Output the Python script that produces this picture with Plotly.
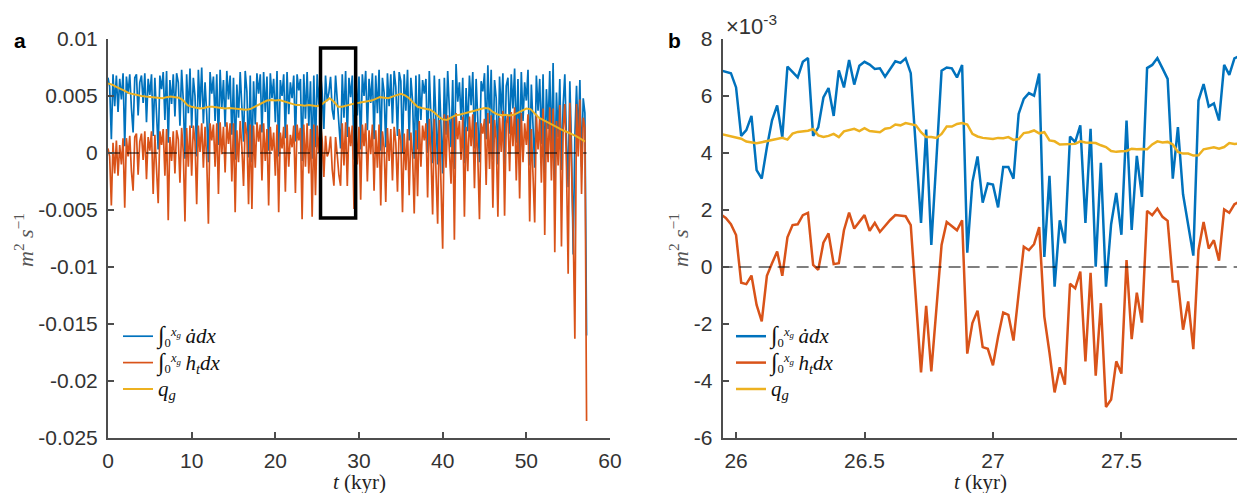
import numpy as np
import plotly.graph_objects as go

W, H = 1237, 493

# ---------------- panel a : full run (values in 1e-3 m^2/s) ----------------
t_a = np.round(np.arange(0, 57.3, 0.2), 1)

adot_a = [
    6.6, 5.8, 1.2, 6.9, 4.1,   6.8, 3.6, 6.5, 4.7, 7.0,   0.6, 6.7, 5.2, 6.9, 3.9,
    1.8, 6.6, 6.9, 3.3, 6.2,   6.8, 4.4, 7.0, 2.7, 6.5,   5.1, 6.9, 1.5, 6.6, 3.8,
    0.3, 6.8, 5.6, 7.1, 2.9,   7.2, 0.9, 6.4, 4.3, 6.9,   3.2, 7.0, 6.2, 2.4, 7.3,
    4.6, -0.5, 6.9, 3.5, 7.4,  2.2, 6.6, 5.0, -0.3, 7.3,  4.0, 7.5, 2.6, 6.2, 3.4,
    -0.8, 7.1, 5.2, 6.7, 2.8,  6.9, 0.7, 7.3, 3.9, 6.4,   2.3, 7.2, 4.7, 6.8, 1.6,
    6.6, -0.6, 6.0, 3.1, 7.1,  4.3, 1.0, 7.2, 5.4, -0.4,  6.8, -0.8, 6.3, 2.5, 7.0,
    5.2, 6.9, 1.8, 7.1, 3.6,   6.7, 0.2, 7.0, 4.8, 6.5,   2.7, 7.2, -0.3, 6.4, 5.0,
    6.9, 1.3, 7.1, 3.4, 6.2,   4.8, 6.8, 1.0, 6.9, 5.5,   6.5, -0.7, 6.9, 3.0, 7.1,
    2.4, 6.3, -0.5, 6.8, 0.5,  6.9, 4.2, 7.1, 5.3, 2.1,   6.8, 4.55, 5.3, 6.68, 3.8,
    2.93, 6.79, 4.85, 2.46, 0.4, 6.9, 3.1, 7.2, 1.4, 6.6, 4.9, 6.8, -0.6, 7.1, 3.3,
    6.7, 0.3, 6.9, 5.0, 7.2,   2.0, 6.5, 4.4, 7.0, 1.2,   6.8, 3.5, 7.3, 0.2, 6.6,
    5.3, 0.5, 7.0, 4.1, 6.9,   2.6, 7.2, 5.8, 1.5, 7.1,   6.3, 0.0, 6.9, 3.7, 7.3,
    1.1, 6.6, 4.6, -0.5, 6.8,  0.3, 6.9, 2.9, 6.4, 5.2,   6.5, 0.0, 7.2, 3.8, -0.9,
    6.8, 2.5, -1.0, 6.5, 1.4,  -1.8, 6.6, 1.6, 7.2, 3.8,  0.5, 6.4, -1.4, 7.8, 4.5,
    6.2, 2.9, 6.6, -0.9, 5.7,  1.9, 6.8, 4.2, 7.1, 0.4,   6.5, 3.3, -0.8, 6.3, 5.4,
    7.0, 1.2, 7.7, 2.6, 7.3,   -0.6, 6.4, 4.8, -1.0, 6.7, 3.4, 7.0, -1.0, 5.9, 6.6,
    1.7, 6.9, 3.9, 7.4, 0.9,   6.5, -0.4, 7.1, 2.8, 6.2,  4.6, 7.3, -1.1, 6.0, 1.9,
    -1.3, 6.8, 3.7, 6.5, 0.8,  6.9, -1.8, 5.6, 2.1, 7.2,  0.1, 7.9, -2.5, 5.3, 1.4,
    6.5, -1.5, 4.2, 6.9, 1.2,  -3.0, 6.3, 0.6, -8.9, 1.5, 5.9, 1.3, 6.4, -1.2, 4.8,
    3.5, -16.0,
]

ht_a = [
    0.4, -0.3, -4.6, 0.9, -1.8,  1.1, -2.0, 0.7, -1.0, 1.3,  -4.8, 1.3, -0.3, 1.5, -1.6,
    -3.3, 1.4, 1.7, -1.9, 1.0,   1.7, -0.6, 1.9, -2.3, 1.4,  0.2, 1.9, -3.6, 1.6, -1.2,
    -4.4, 1.9, 0.7, 2.1, -2.0,   2.1, -5.9, 1.4, -0.7, 1.9,  -1.8, 2.0, 1.2, -2.6, 2.2,
    0.1, -6.0, 2.2, -1.2, 2.4,   -2.0, 2.4, 1.0, -4.5, 2.4,  0.1, 2.6, -1.3, 2.3, -0.6,
    -6.2, 2.6, 1.1, 2.5, -1.2,   2.6, -3.6, 2.7, -0.1, 2.3,  -1.7, 2.7, 0.8, 2.6, -2.5,
    2.6, -5.2, 2.0, -0.8, 2.8,   0.5, -2.9, 2.7, 1.6, -4.5,  2.5, -4.9, 2.4, -1.3, 2.7,
    1.0, 2.5, -2.4, 2.6, -0.7,   2.1, -4.6, 2.3, 0.2, 1.8,   -2.0, 2.5, -5.2, 1.8, 0.4,
    2.3, -3.4, 2.5, -1.2, 1.6,   0.5, 2.4, -3.5, 2.5, 1.1,   2.2, -5.8, 2.5, -1.2, 2.6,
    -1.8, 2.1, -5.6, 2.5, -3.7,  2.4, 0.0, 2.6, 1.1, -2.1,   1.5, -0.31, 0.1, 1.45, -1.45,
    -2.87, 1.4, -0.2, -1.95, -2.88, 2.6, -1.1, 2.7, -2.9, 2.3, 0.6, 2.4, -4.9, 2.6, -1.0,
    2.3, -4.1, 2.5, 0.6, 2.6,    -2.5, 2.0, -0.1, 2.5, -3.3,  2.0, -1.3, 2.5, -4.6, 1.9,
    0.5, -4.3, 2.2, -0.7, 2.1,   -2.4, 2.3, 0.9, -3.4, 2.1,  1.1, -5.2, 1.7, -1.5, 2.1,
    -3.7, 1.8, -0.2, -5.3, 2.0,  -3.8, 2.8, -1.2, 2.4, 1.1,  2.6, -3.9, 3.0, -0.1, -5.4,
    3.0, -1.1, -6.2, 2.9, -2.1,  -8.4, 3.4, -1.3, 3.3, 0.8,  -2.7, 3.1, -7.6, 3.5, 1.2,
    2.8, -0.6, 3.2, -5.6, 2.3,   -1.6, 3.2, 0.6, 3.4, -3.1,  2.7, -0.4, -5.8, 2.6, 1.7,
    3.0, -2.8, 3.5, -1.4, 3.3,   -4.8, 2.9, 1.2, -5.6, 3.1,  0.1, 3.7, -5.5, 2.6, 3.3,
    -1.6, 3.6, 0.6, 4.0, -2.4,   3.0, -4.0, 3.5, -0.8, 2.6,  0.7, 3.4, -6.0, 2.1, -2.0,
    -6.1, 3.4, 0.3, 3.1, -2.6,   3.9, -7.2, 2.7, -0.8, 4.0,  -2.4, 3.9, -8.7, 2.8, -1.1,
    4.2, -8.2, 2.1, 4.3, -1.2,   -10.6, 4.4, -1.3, -6.8, -16.3, 4.3, -0.3, 4.7, -3.6, 3.1,
    2.2, -23.5,
]

t_q = np.arange(0, 57.01, 0.5)
qg_a = [
    6.1, 6.0, 5.8, 5.65, 5.45, 5.25, 5.15, 5.1, 5.0, 4.95,
    4.9, 4.85, 4.8, 4.8, 4.9, 4.95, 4.9, 4.85, 4.6, 4.2,
    4.05, 3.95, 3.9, 3.95, 4.05, 4.05, 4.0, 3.95, 3.9, 3.95,
    3.9, 3.85, 3.8, 3.8, 3.85, 4.05, 4.25, 4.45, 4.6, 4.65,
    4.6, 4.65, 4.55, 4.4, 4.3, 4.2, 4.2, 4.15, 4.2, 4.15,
    4.1, 4.25, 4.55, 4.8, 4.5, 4.05, 4.05, 4.15, 4.3, 4.35,
    4.4, 4.45, 4.5, 4.6, 4.75, 4.9, 4.85, 4.8, 4.95, 5.1,
    5.2, 5.05, 4.8, 4.4, 4.05, 3.95, 3.9, 3.8, 3.55, 3.2,
    2.95, 2.9, 3.1, 3.3, 3.35, 3.45, 3.55, 3.6, 3.7, 3.85,
    3.95, 3.9, 3.6, 3.4, 3.3, 3.35, 3.3, 3.35, 3.55, 3.75,
    3.9, 3.85, 3.45, 3.1, 2.9, 2.7, 2.5, 2.3, 2.1, 1.95,
    1.8, 1.65, 1.45, 1.25, 1.0,
]

# region shown enlarged in panel b
zoom_box = dict(t0=25.4, t1=29.6, lo=-0.0057, hi=0.0092)

# ---------------- panel b : enlarged window (values in 1e-3 m^2/s) ----------------
t_b = np.round(25.94 + 0.02 * np.arange(102), 2)

adot_b = [
    6.9, 6.85, 6.8, 6.3, 4.6, 4.8, 5.3, 3.4, 3.1, 4.2,
    5.15, 5.67, 4.55, 7.03, 6.85, 6.65, 7.2, 7.33, 4.6, 4.9,
    5.95, 6.28, 5.3, 6.9, 6.3, 7.26, 6.4, 7.06, 7.2, 7.1,
    6.95, 6.97, 6.68, 6.95, 7.22, 7.16, 7.32, 6.8, 4.2, 1.55,
    4.82, 0.77, 3.8, 6.89, 7.0, 6.97, 6.65, 7.09, 0.5, 2.98,
    3.88, 2.26, 2.93, 2.89, 2.09, 3.51, 3.51, 3.1, 5.37, 5.9,
    6.1, 6.01, 6.79, 0.35, 3.2, -0.69, 1.64, 0.83, 4.58, 4.38,
    4.97, 1.55, 4.85, 0.01, 3.66, -0.69, 1.5, 2.6, 1.13, 5.14,
    1.3, 3.9, 2.46, 6.98, 7.09, 7.33, 6.97, 6.6, 3.1, 4.91,
    2.55, 1.45, 0.4, 5.84, 6.42, 5.63, 5.74, 5.14, 7.09, 6.74,
    7.32, 7.4,
]

ht_b = [
    1.85, 1.72, 1.5, 1.12, -0.55, -0.6, -0.3, -1.33, -1.91, -0.31,
    0.13, 0.54, -0.31, 1.04, 1.47, 1.5, 1.82, 1.9, 0.07, -0.1,
    0.85, 1.18, 0.1, 0.13, 1.29, 1.91, 1.35, 1.6, 1.82, 1.27,
    1.55, 1.23, 1.45, 1.65, 1.82, 1.8, 1.78, 1.47, -1.1, -3.7,
    -1.36, -3.66, -1.45, 0.77, 1.58, 1.43, 1.29, 1.64, -3.04, -1.97,
    -1.53, -2.81, -2.87, -3.45, -2.45, -1.6, -1.68, -2.58, -0.9, 0.71,
    0.59, 0.8, 1.4, -1.74, -3.0, -4.4, -3.52, -4.13, -0.59, -0.75,
    -0.16, -3.31, -0.2, -3.81, -1.27, -4.91, -4.65, -3.31, -3.74, 0.24,
    -2.53, -0.9, -1.95, 1.97, 1.82, 2.05, 1.76, 1.62, -0.51, -0.51,
    -2.2, -1.21, -2.88, 0.59, 1.58, 0.65, 0.94, 0.22, 2.02, 1.9,
    2.2, 2.3,
]

qg_b = [
    4.67, 4.63, 4.58, 4.55, 4.5, 4.4, 4.36, 4.34, 4.38, 4.42,
    4.47, 4.5, 4.53, 4.47, 4.68, 4.74, 4.76, 4.78, 4.84, 4.62,
    4.56, 4.6, 4.67, 4.56, 4.76, 4.8, 4.85, 4.77, 4.87, 4.77,
    4.75, 4.73, 4.85, 4.88, 5.0, 4.97, 5.05, 5.0, 4.97, 4.73,
    4.56, 4.56, 4.53, 4.67, 4.93, 4.93, 5.02, 5.05, 5.0, 4.67,
    4.58, 4.53, 4.51, 4.49, 4.53, 4.52, 4.56, 4.46, 4.49, 4.7,
    4.73, 4.79, 4.69, 4.73, 4.44, 4.41, 4.3, 4.3, 4.3, 4.32,
    4.41, 4.37, 4.36, 4.35, 4.27, 4.21, 4.07, 4.04, 4.06, 4.07,
    4.15, 4.13, 4.14, 4.13, 4.3, 4.41, 4.37, 4.39, 4.3, 4.04,
    3.98, 3.98, 3.91, 3.92, 4.13, 4.17, 4.2, 4.15, 4.21, 4.35,
    4.32, 4.33,
]

ya_ticks = [-0.025, -0.02, -0.015, -0.01, -0.005, 0, 0.005, 0.01]
ya_labels = ["-0.025", "-0.02", "-0.015", "-0.01", "-0.005", "0", "0.005", "0.01"]
xa_ticks = [0, 10, 20, 30, 40, 50, 60]
yb_ticks = [-6, -4, -2, 0, 2, 4, 6, 8]
yb_labels = ["-6", "-4", "-2", "0", "2", "4", "6", "8"]
xb_ticks = [26, 26.5, 27, 27.5]

BLUE, RED, YEL = "#0072BD", "#D95319", "#EDB120"
SCALE = 1e-3

INT = "<span style='font-size:24px'>∫</span>"
name_adot = INT + "<sub>0</sub><sup><i>x<sub>g</sub></i></sup> <span style='font-size:21px'><i>ȧdx</i></span>"
name_ht = INT + "<sub>0</sub><sup><i>x<sub>g</sub></i></sup> <span style='font-size:21px'><i>h<sub>t</sub>dx</i></span>"
name_q = "<span style='font-size:21px'><i>q<sub>g</sub></i></span>"


def px_x(p):
    return p / W


def px_y(p):
    return 1 - p / H


fig = go.Figure()

# panel a
fig.add_trace(go.Scatter(x=t_a, y=np.array(adot_a) * SCALE, mode="lines", name=name_adot,
                         line=dict(color=BLUE, width=1.7), xaxis="x", yaxis="y", legend="legend"))
fig.add_trace(go.Scatter(x=t_a, y=np.array(ht_a) * SCALE, mode="lines", name=name_ht,
                         line=dict(color=RED, width=1.7), xaxis="x", yaxis="y", legend="legend"))
fig.add_trace(go.Scatter(x=t_q, y=np.array(qg_a) * SCALE, mode="lines", name=name_q,
                         line=dict(color=YEL, width=2), xaxis="x", yaxis="y", legend="legend"))
fig.add_trace(go.Scatter(x=[t_a[0], t_a[-1]], y=[0, 0], mode="lines", showlegend=False,
                         line=dict(color="black", width=1.2, dash="12px,7px"), xaxis="x", yaxis="y"))

# panel b
fig.add_trace(go.Scatter(x=t_b, y=adot_b, mode="lines", name=name_adot,
                         line=dict(color=BLUE, width=2.5), xaxis="x2", yaxis="y2", legend="legend2"))
fig.add_trace(go.Scatter(x=t_b, y=ht_b, mode="lines", name=name_ht,
                         line=dict(color=RED, width=2.5), xaxis="x2", yaxis="y2", legend="legend2"))
fig.add_trace(go.Scatter(x=t_b, y=qg_b, mode="lines", name=name_q,
                         line=dict(color=YEL, width=2.5), xaxis="x2", yaxis="y2", legend="legend2"))
fig.add_trace(go.Scatter(x=[t_b[0], t_b[-1]], y=[0, 0], mode="lines", showlegend=False,
                         line=dict(color="black", width=1.2, dash="12px,7px"), xaxis="x2", yaxis="y2"))

fig.add_shape(type="rect", xref="x", yref="y",
              x0=zoom_box["t0"], x1=zoom_box["t1"], y0=zoom_box["lo"], y1=zoom_box["hi"],
              line=dict(color="black", width=3.5))

AX = "#4d4d4d"
tickfont = dict(family="Liberation Sans, Arial, sans-serif", size=21, color="#333333")
common = dict(showline=True, linecolor=AX, linewidth=2, ticks="inside", ticklen=6,
              tickwidth=1.5, tickcolor=AX, showgrid=False, zeroline=False,
              tickfont=tickfont, mirror=False, automargin=False)

legend_style = dict(xanchor="left", yanchor="top", bgcolor="rgba(0,0,0,0)", borderwidth=0,
                    tracegroupgap=0,
                    font=dict(family="Liberation Serif, serif", size=18, color="#111111"))

y_dom = [px_y(438), px_y(39)]
fig.update_layout(
    width=W, height=H, margin=dict(l=0, r=0, t=0, b=0, pad=0, autoexpand=False),
    paper_bgcolor="white", plot_bgcolor="white",
    xaxis=dict(domain=[px_x(108), px_x(610)], range=[0, 60], tickvals=xa_ticks,
               anchor="y", ticklabelstandoff=3, **common),
    yaxis=dict(domain=y_dom, range=[-0.025, 0.01], tickvals=ya_ticks, ticktext=ya_labels,
               anchor="x", ticklabelstandoff=4, **common),
    xaxis2=dict(domain=[px_x(722.7), 1.0], range=[25.948, 27.95], tickvals=xb_ticks,
                anchor="y2", ticklabelstandoff=3, **common),
    yaxis2=dict(domain=y_dom, range=[-6, 8], tickvals=yb_ticks, ticktext=yb_labels,
                anchor="x2", ticklabelstandoff=4, **common),
    legend=dict(x=px_x(118), y=px_y(318), **legend_style),
    legend2=dict(x=px_x(731), y=px_y(318), **legend_style),
    showlegend=True,
)

serif = "Liberation Serif, serif"
ylab = "<i>m</i><sup>2</sup> <i>s</i><sup>−1</sup>"
ann = [
    dict(text="<b>a</b>", x=px_x(19.5), y=px_y(41), font=dict(family="Liberation Sans", size=21, color="black")),
    dict(text="<b>b</b>", x=px_x(675), y=px_y(40), font=dict(family="Liberation Sans", size=21, color="black")),
    dict(text="×10<sup>-3</sup>", x=px_x(724), y=px_y(25), xanchor="left",
         font=dict(family="Liberation Sans", size=22, color="#333333")),
    dict(text="<i>t</i> (kyr)", x=px_x(359), y=px_y(482), font=dict(family=serif, size=21, color="#222222")),
    dict(text="<i>t</i> (kyr)", x=px_x(980), y=px_y(482), font=dict(family=serif, size=21, color="#222222")),
    dict(text=ylab, x=px_x(24), y=px_y(240), textangle=-90,
         font=dict(family=serif, size=22, color="#555555")),
    dict(text=ylab, x=px_x(679), y=px_y(240), textangle=-90,
         font=dict(family=serif, size=22, color="#555555")),
]
for a in ann:
    a.setdefault("xanchor", "center")
    fig.add_annotation(xref="paper", yref="paper", yanchor="middle", showarrow=False, **a)

fig.write_html("out.html")
